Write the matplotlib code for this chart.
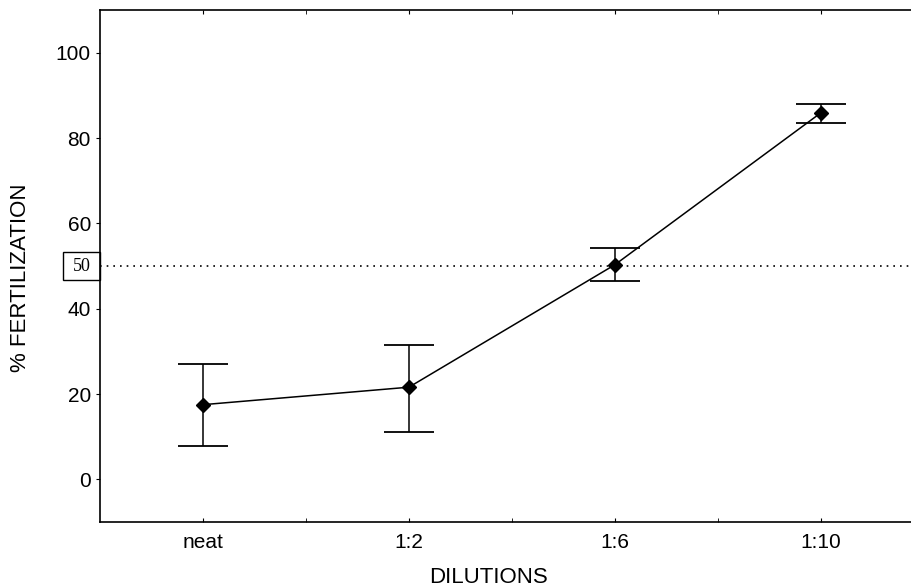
import numpy as np
import matplotlib.pyplot as plt
from matplotlib.patches import Rectangle

dilutions = ['neat', '1:2', '1:6', '1:10']
fert_mean = [17.5, 21.6, 50.3, 85.9]
err_upper = [27.0, 31.6, 54.2, 88.0]
err_lower = [7.9, 11.2, 46.5, 83.6]
threshold = 50

plt.rcParams['font.family'] = ['Liberation Sans', 'DejaVu Sans']

fig = plt.figure(figsize=(9.12, 5.88), dpi=100)
ax = fig.add_axes([0.1096, 0.1122, 1.013 - 0.1096, 0.983 - 0.1122])

x = np.arange(len(dilutions))
mean = np.array(fert_mean)
yerr = [mean - np.array(err_lower), np.array(err_upper) - mean]

ax.errorbar(x, mean, yerr=yerr, color='black', lw=1.1, marker='D', ms=7,
            capsize=18, capthick=1.3, elinewidth=1.1)
ax.axhline(threshold, color='black', ls=(0, (1, 3)), lw=1.2)

ax.set_xlim(-0.5, 3.5)
ax.set_ylim(-10, 110)
ax.set_xticks(x)
ax.set_xticklabels(dilutions)
ax.set_xticks(x[:-1] + 0.5, minor=True)
ax.set_yticks(np.arange(0, 101, 20))
ax.tick_params(axis='x', which='both', direction='in', length=3, top=True,
               labelsize=15, pad=8)
ax.tick_params(axis='y', direction='out', length=3, labelsize=15)

# boxed "50" label next to the axis
bw = 0.045
ax.add_patch(Rectangle((-bw, threshold - 3.3), bw, 6.6,
                       transform=ax.get_yaxis_transform(), clip_on=False,
                       fc='white', ec='black', lw=1.0))
ax.text(-bw / 2, threshold, str(threshold), transform=ax.get_yaxis_transform(),
        ha='center', va='center', fontsize=13, family='Liberation Serif')

ax.set_xlabel('DILUTIONS', fontsize=16)
ax.xaxis.set_label_coords(0.472, -0.088)
ax.set_ylabel('% FERTILIZATION', fontsize=16)
ax.yaxis.set_label_coords(-0.084, 0.478)

ax.spines['right'].set_visible(False)
for s in ax.spines.values():
    s.set_linewidth(1.2)

fig.savefig('out.png', dpi=100)
